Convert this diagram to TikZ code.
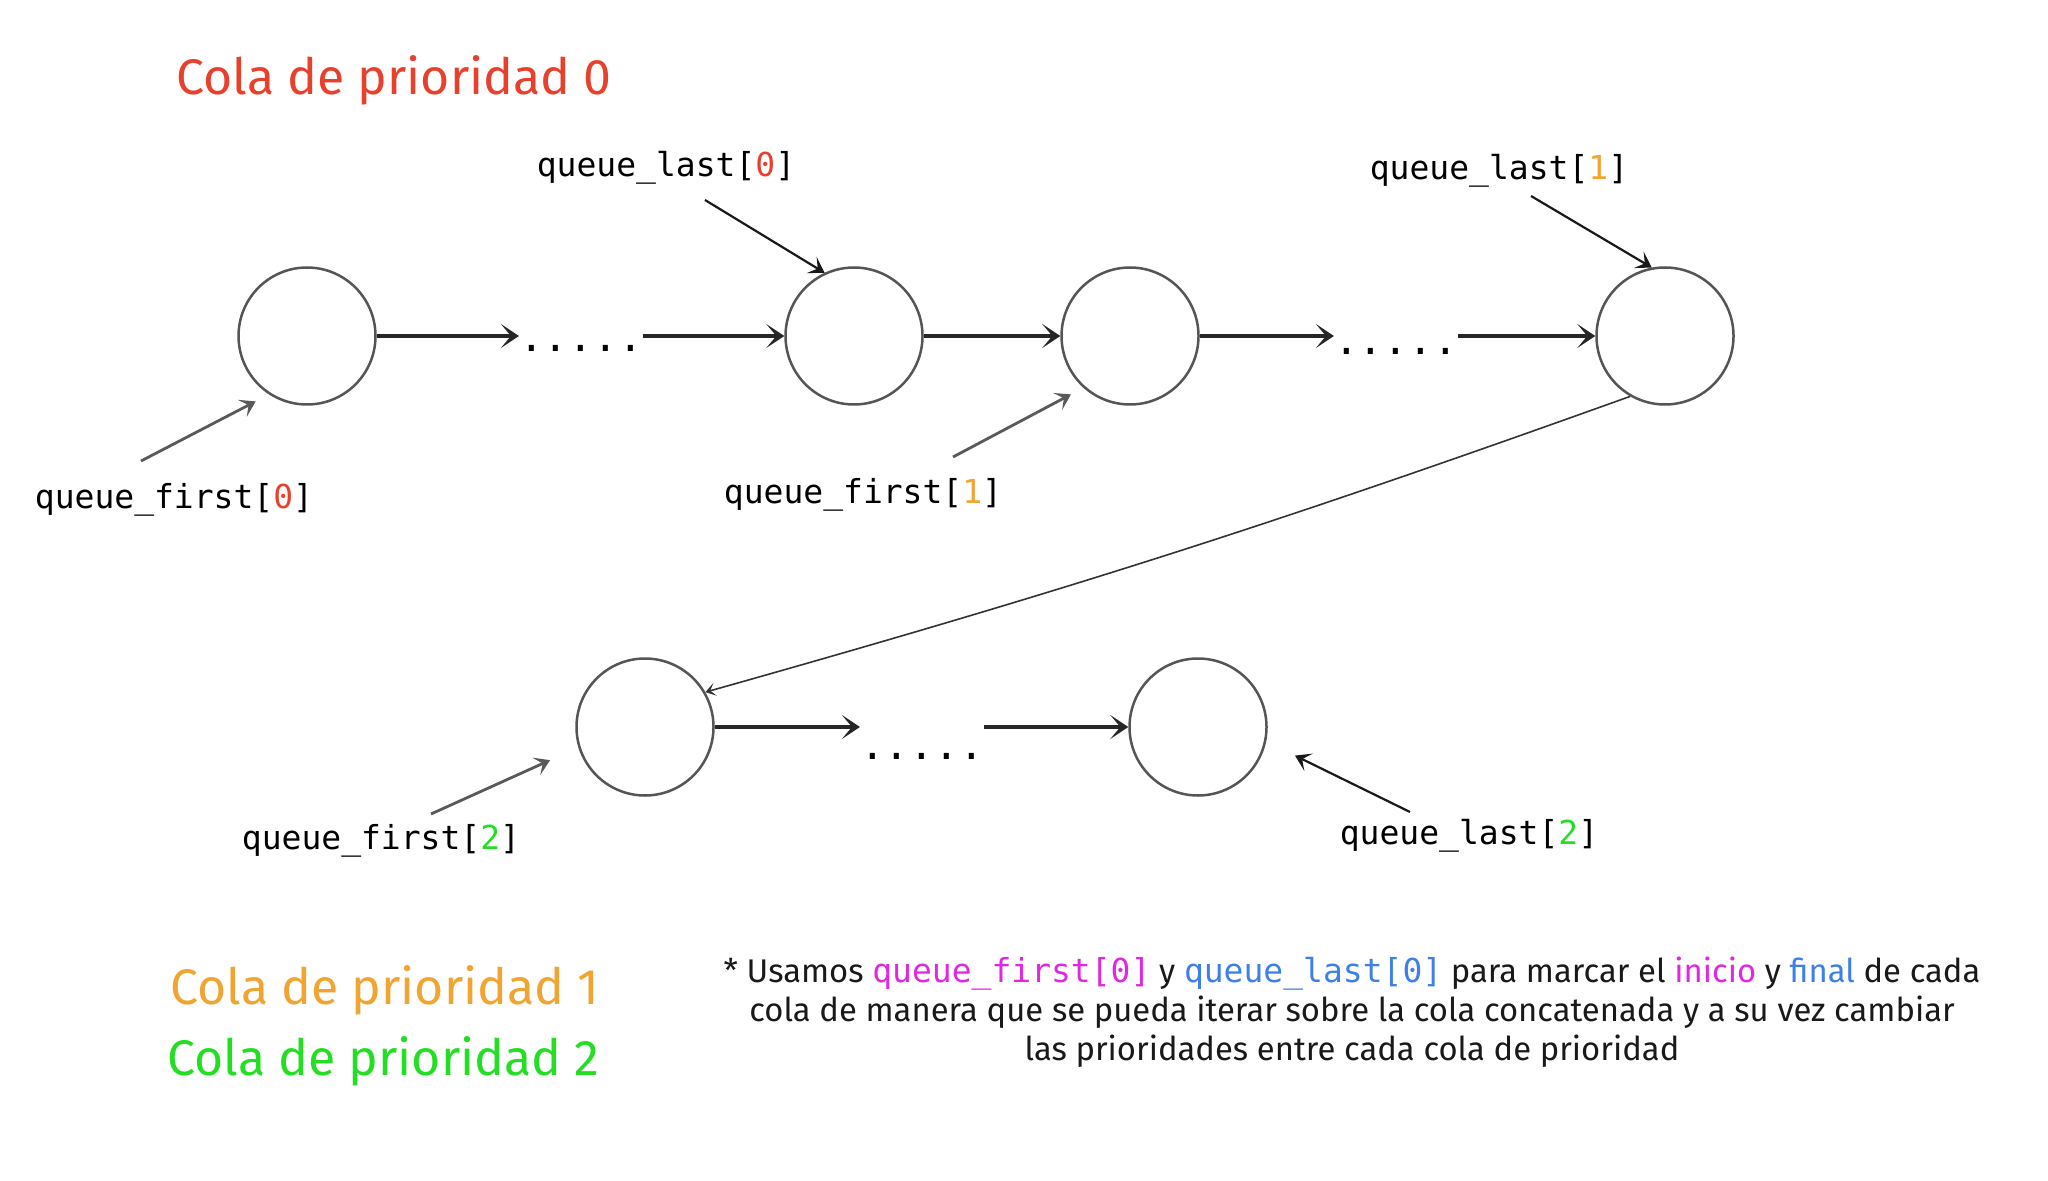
\documentclass[tikz,border=0pt]{standalone}
\usepackage{fontspec}
\setmainfont{Fira Sans}
\setmonofont{DejaVu Sans Mono}
\usepackage{xcolor}
\usetikzlibrary{arrows.meta}
\definecolor{prio0}{RGB}{231,65,45}
\definecolor{prio1}{RGB}{240,165,50}
\definecolor{prio2}{RGB}{35,222,35}
\definecolor{inicio}{RGB}{224,40,224}
\definecolor{final}{RGB}{62,128,232}
\definecolor{ring}{RGB}{85,85,85}

\begin{document}
\begin{tikzpicture}[
  x=0.5pt, y=-0.5pt,
  elem/.style={circle, draw=ring, line width=1.25pt, minimum size=68.5pt, inner sep=0pt},
  ellip/.style={font=\ttfamily\fontsize{20.5pt}{20.5pt}\selectfont, inner sep=0pt},
  ptr/.style={font=\ttfamily\fontsize{16.5pt}{20pt}\selectfont, inner sep=0pt},
  heading/.style={font=\fontsize{25pt}{30pt}\selectfont, inner sep=0pt, anchor=west},
  note/.style={font=\fontsize{16.4pt}{19.5pt}\selectfont, align=center, inner sep=0pt, text=black!90},
  link/.style={-{Stealth[length=9pt,width=12pt,inset=5pt]}, line width=1.6pt, black!85},
  tagl/.style={-{Stealth[length=7.5pt,width=9.5pt,inset=3.5pt]}, line width=1.1pt, black!90},
  tagf/.style={-{Stealth[length=7.5pt,width=9.5pt,inset=3.5pt]}, line width=1.4pt, black!65},
  jump/.style={-{Stealth[length=5pt,width=6.5pt,inset=2.5pt]}, line width=0.8pt, black!80},
]
\useasboundingbox (0,0) rectangle (2048,1181);

\node[heading, text=prio0] (t0) at (176,80) {Cola de prioridad 0};
\node[heading, text=prio1] (t1) at (170,990) {Cola de prioridad 1};
\node[heading, text=prio2] (t2) at (167,1061) {Cola de prioridad 2};

\node[elem] (c1) at (307,336) {};
\node[elem] (c2) at (854,336) {};
\node[elem] (c3) at (1130,336) {};
\node[elem] (c4) at (1665,336) {};
\node[elem] (c5) at (645,727) {};
\node[elem] (c6) at (1198,727) {};

\node[ellip] (d1) at (581,348) {.....};
\node[ellip] (d2) at (1396,351) {.....};
\node[ellip] (d3) at (922,756) {.....};

\draw[link] (c1) -- (c1 -| d1.west);
\draw[link] (c1 -| d1.east) -- (c2);
\draw[link] (c2) -- (c3);
\draw[link] (c3) -- (c3 -| d2.west);
\draw[link] (c3 -| d2.east) -- (c4);
\draw[link] (c5) -- (c5 -| d3.west);
\draw[link] (c5 -| d3.east) -- (c6);
\draw[jump] (c4.240) to[bend left=2] (c5.30);

\node[ptr] (ll0) at (666,168) {queue\_last[{\color{prio0}0}]};
\node[ptr] (ll1) at (1499,171) {queue\_last[{\color{prio1}1}]};
\node[ptr] (lf0) at (174,500) {queue\_first[{\color{prio0}0}]};
\node[ptr] (lf1) at (863,495) {queue\_first[{\color{prio1}1}]};
\node[ptr] (lf2) at (381,841) {queue\_first[{\color{prio2}2}]};
\node[ptr] (ll2) at (1469,836) {queue\_last[{\color{prio2}2}]};

\coordinate (l0) at (705,200);
\coordinate (l1) at (1531,196);
\coordinate (f0) at (141,461);
\coordinate (f1) at (953,457);
\coordinate (f2) at (431,814);
\coordinate (l2) at (1410,812);

\draw[tagl] (l0) -- (c2.115);
\draw[tagl] (l1) -- (c4.101);
\draw[tagf, shorten >=7.5pt] (f0) -- (c1.237);
\draw[tagf, shorten >=7pt] (f1) -- (c3.228);
\draw[tagf, shorten >=15.5pt] (f2) -- (c5.197);
\draw[tagl, shorten >=16pt] (l2) -- (c6.348);

\node[note] (nota) at (1352,1012) {* Usamos {\ttfamily\fontsize{16.5pt}{19.5pt}\selectfont\color{inicio}queue\_first[0]} y {\ttfamily\fontsize{16.5pt}{19.5pt}\selectfont\color{final}queue\_last[0]} para marcar el {\color{inicio}inicio} y {\color{final}final} de cada\\
cola de manera que se pueda iterar sobre la cola concatenada y a su vez cambiar\\
las prioridades entre cada cola de prioridad};
\end{tikzpicture}
\end{document}
